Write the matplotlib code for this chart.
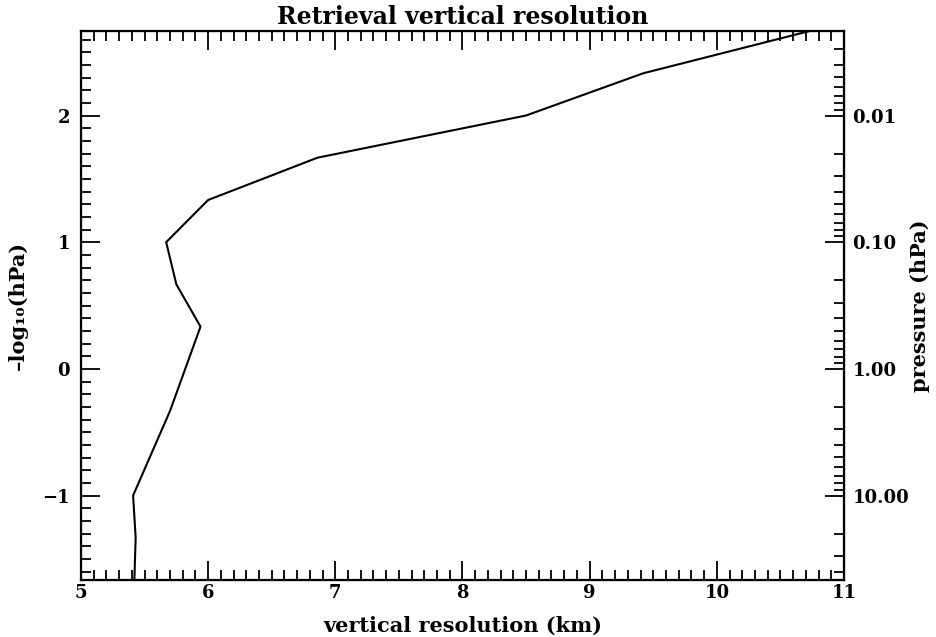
import numpy as np
import matplotlib
matplotlib.use("Agg")
import matplotlib.pyplot as plt
from matplotlib.ticker import MultipleLocator, LogLocator, FixedLocator, NullFormatter, FuncFormatter

# profile: -log10(p) levels and vertical resolution (km)
levels = [-1.667, -1.333, -1.0, -0.333, 0.333, 0.667, 1.0, 1.333, 1.667, 2.0, 2.333, 2.667]
resolution = [5.42, 5.43, 5.41, 5.70, 5.94, 5.75, 5.67, 6.00, 6.86, 8.50, 9.42, 10.73]

x_range = [5, 11]
y_range = [-1.667, 2.667]
p_ticks = [0.01, 0.1, 1.0, 10.0]

plt.rcParams['font.family'] = ['DejaVu Serif']
plt.rcParams['font.weight'] = 'bold'

fig = plt.figure(figsize=(9.36, 6.37), dpi=100)
ax = fig.add_axes([0.0865, 0.0895, 0.8152, 0.8618])

ax.plot(resolution, levels, color='black', lw=1.5)
ax.set_xlim(x_range)
ax.set_ylim(y_range)

ax.xaxis.set_major_locator(MultipleLocator(1))
ax.xaxis.set_minor_locator(MultipleLocator(0.1))
ax.yaxis.set_major_locator(MultipleLocator(1))
ax.yaxis.set_minor_locator(MultipleLocator(0.1))
ax.tick_params(which='both', direction='in', top=True, right=False, width=1.3,
               labelsize=13)
ax.tick_params(axis='x', pad=3)
ax.tick_params(axis='y', pad=8)
ax.tick_params(which='major', length=14)
ax.tick_params(which='minor', length=7)
for s in ax.spines.values():
    s.set_linewidth(1.6)

ax.set_xlabel('vertical resolution (km)', fontsize=15, fontweight='bold', labelpad=10)
ax.set_ylabel('\u2013log\u2081\u2080(hPa)', fontsize=15, fontweight='bold', labelpad=10)
ax.set_title('Retrieval vertical resolution', fontsize=17, fontweight='bold', pad=5)

# right axis in pressure
ax2 = ax.twinx()
ax2.set_yscale('log')
ax2.set_ylim(10 ** (-y_range[0]), 10 ** (-y_range[1]))
ax2.yaxis.set_major_locator(FixedLocator(p_ticks))
ax2.yaxis.set_minor_locator(LogLocator(base=10, subs=np.arange(2, 10)))
ax2.yaxis.set_major_formatter(FuncFormatter(lambda v, pos: '%.2f' % v))
ax2.yaxis.set_minor_formatter(NullFormatter())
ax2.tick_params(which='both', direction='in', width=1.3, labelsize=13, pad=6)
ax2.tick_params(which='major', length=14)
ax2.tick_params(which='minor', length=7)
ax2.set_ylabel('pressure (hPa)', fontsize=15, fontweight='bold', labelpad=1)

fig.savefig('out.png', dpi=100)
